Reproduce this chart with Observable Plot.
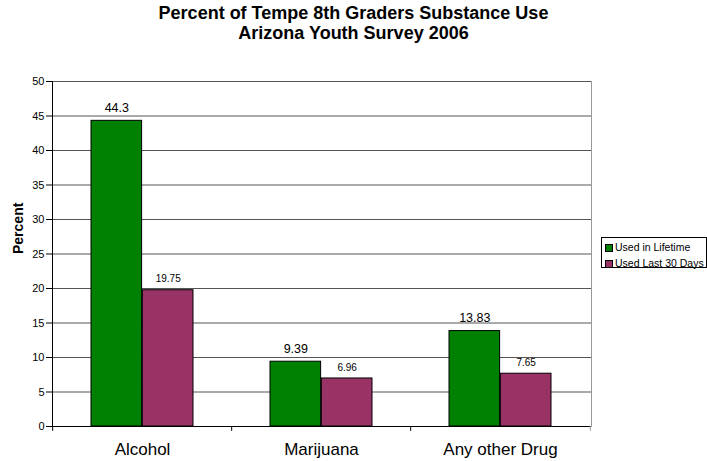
<!DOCTYPE html>
<html>
<head>
<meta charset="utf-8">
<script src="https://cdn.jsdelivr.net/npm/d3@7"></script>
<script src="https://cdn.jsdelivr.net/npm/@observablehq/plot@0.6"></script>
<style>
  body { margin: 0; background: #fff; font-family: "Liberation Sans", Arial, sans-serif; }
  #chart { position: relative; width: 707px; height: 461px; overflow: hidden; }
  #title { position: absolute; left: 0; top: 3px; width: 707px; text-align: center;
           font-weight: bold; font-size: 18px; line-height: 20px; color: #000; }
  #legend { position: absolute; left: 601px; top: 237px; width: 104px; height: 29px;
            border: 1px solid #000; font-size: 10.5px; line-height: 12px; color: #000; background: #fff; }
  #legend .row { position: absolute; left: 3px; white-space: nowrap; }
  #legend .sw { display: inline-block; width: 6px; height: 6px; border: 1px solid #000;
                margin-right: 2px; vertical-align: -1px; }
  svg { position: absolute; left: 0; top: 0; }
</style>
</head>
<body>
<div id="chart">
  <div id="title">Percent of Tempe 8th Graders Substance Use<br>Arizona Youth Survey 2006</div>
  <div id="legend"></div>
</div>
<script>
// Survey results, percent of 8th graders
const categories = ["Alcohol", "Marijuana", "Any other Drug"];
const series = ["Used in Lifetime", "Used Last 30 Days"];
const lifetime = [44.3, 9.39, 13.83];
const last30 = [19.75, 6.96, 7.65];
const yTicks = [0, 5, 10, 15, 20, 25, 30, 35, 40, 45, 50];
const colors = ["#008000", "#993366"];

const rows = categories.flatMap((c, i) => [
  {category: c, series: series[0], value: lifetime[i]},
  {category: c, series: series[1], value: last30[i]}
]);

const W = 707, H = 461;
const mL = 52, mR = 116, mT = 81, mB = 35;
const paddingInner = 0.428;
const step = (W - mL - mR) / categories.length;
const half = step * (1 - paddingInner) / 2;

const bar = (s, opts) => Plot.barY(rows.filter(d => d.series === s), {
  x: "category", y: "value", fill: colors[series.indexOf(s)],
  stroke: "#000", strokeWidth: 1, ...opts
});

const label = (s, size, opts) => Plot.text(rows.filter(d => d.series === s), {
  x: "category", y: "value", text: d => String(d.value),
  fontSize: size, fill: "#000", ...opts
});

const chart = Plot.plot({
  width: W, height: H,
  marginLeft: mL, marginRight: mR, marginTop: mT, marginBottom: mB,
  style: {fontFamily: "'Liberation Sans', Arial, sans-serif", background: "transparent", overflow: "visible"},
  x: {domain: categories, paddingInner, paddingOuter: paddingInner / 2, align: 0.5},
  y: {domain: [0, 50]},
  marks: [
    Plot.gridY(yTicks, {stroke: "#555", strokeOpacity: 1}),
    Plot.frame({anchor: "right", stroke: "#999"}),
    bar(series[0], {insetRight: half}),
    bar(series[1], {insetLeft: half}),
    label(series[0], 12.5, {dx: -half / 2, dy: -13}),
    label(series[1], 10, {dx: half / 2, dy: -11}),
    Plot.ruleY([0], {stroke: "#000"}),
    Plot.frame({anchor: "left", stroke: "#000"}),
    Plot.ruleX(categories, {x: d => d, dx: -step / 2, y1: 0, y2: -0.7, stroke: "#000"}),
    Plot.ruleX(categories.slice(-1), {x: d => d, dx: step / 2, y1: 0, y2: -0.7, stroke: "#999"}),
    Plot.axisY({ticks: yTicks, tickSize: 6, tickPadding: 2, fontSize: 11, label: null, stroke: "#000"}),
    Plot.axisX({tickSize: 0, tickPadding: 16, fontSize: 17, label: null}),
    Plot.text(["Percent"], {frameAnchor: "left", dx: -34, rotate: -90, fontWeight: "bold", fontSize: 14, fill: "#000"})
  ]
});
document.getElementById("chart").appendChild(chart);

// Legend
const legend = document.getElementById("legend");
series.forEach((s, i) => {
  const row = document.createElement("div");
  row.className = "row";
  row.style.top = (i === 0 ? 3 : 19) + "px";
  const sw = document.createElement("span");
  sw.className = "sw";
  sw.style.background = colors[i];
  row.appendChild(sw);
  row.appendChild(document.createTextNode(s));
  legend.appendChild(row);
});
</script>
</body>
</html>
